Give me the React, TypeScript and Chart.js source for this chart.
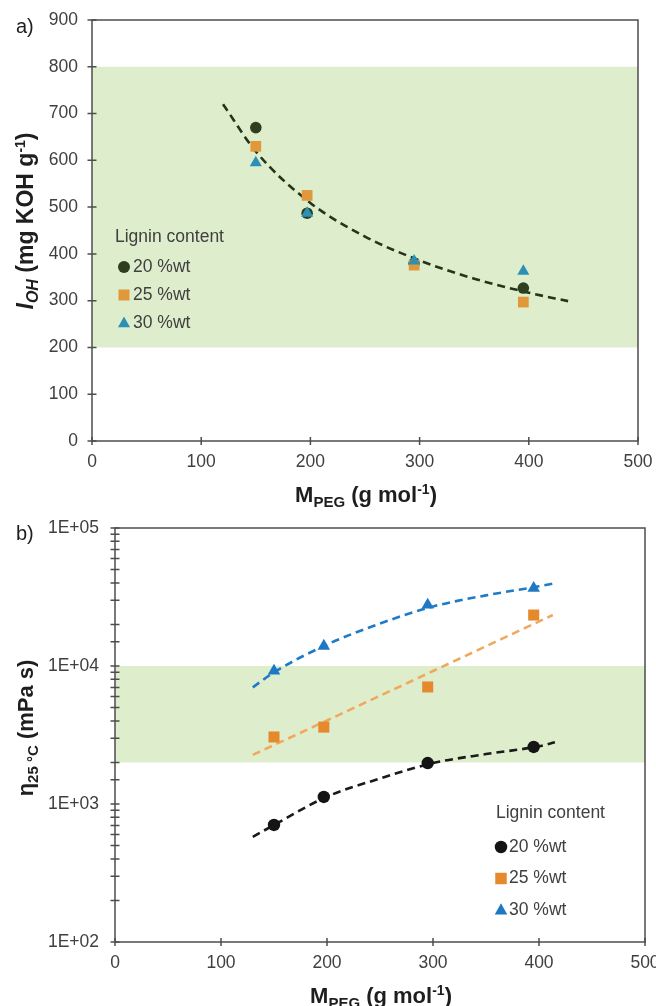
import React, { useEffect, useRef } from 'react';
import { Chart, registerables } from 'chart.js';

Chart.register(...registerables);

const FONT = '"Liberation Sans", Arial, Helvetica, sans-serif';
const TEXT = '#404040';
const TITLE = '#1e1e1e';
const AXIS = '#4d4d4d';
const BAND = 'rgb(222, 238, 204)';

// PEG molar mass of the samples (g/mol)
const M_PEG = [150, 197, 295, 395];
const M_PEG_TICKS = [0, 100, 200, 300, 400, 500];

const LEGEND_TITLE = 'Lignin content';
const SERIES = ['20 %wt', '25 %wt', '30 %wt'];

// a) hydroxyl index (mg KOH/g)
const IOH_20 = [670, 487, 380, 327];
const IOH_25 = [630, 525, 376, 297];
const IOH_30 = [595, 487, 385, 363];
const IOH_TREND_X = [120, 150, 200, 250, 300, 350, 400, 436];
const IOH_TREND_Y = [720, 619, 509, 437, 386, 347, 317, 299];
const IOH_RANGE = [200, 800];
const IOH_TICKS = [0, 100, 200, 300, 400, 500, 600, 700, 800, 900];

// b) viscosity at 25 °C (mPa s)
const VISC_20 = [705, 1125, 1980, 2590];
const VISC_25 = [3060, 3610, 7050, 23400];
const VISC_30 = [9200, 13950, 27700, 36700];
const VISC_TREND20_X = [130, 150, 200, 250, 300, 350, 400, 415];
const VISC_TREND20_Y = [577, 705, 1130, 1530, 1980, 2300, 2620, 2800];
const VISC_TREND25_X = [130, 200, 300, 413];
const VISC_TREND25_Y = [2270, 4030, 9200, 23400];
const VISC_TREND30_X = [130, 150, 200, 250, 300, 350, 400, 417];
const VISC_TREND30_Y = [7000, 9000, 14300, 20300, 27000, 32500, 37800, 40000];
const VISC_RANGE = [2000, 10000];
const VISC_LABELLED = [100, 1000, 10000, 100000];

const pts = (xs: number[], ys: number[]) => xs.map((x, i) => ({ x, y: ys[i] }));

function drawMarker(ctx: CanvasRenderingContext2D, style: string, x: number, y: number, size: number, color: string) {
  ctx.fillStyle = color;
  ctx.beginPath();
  if (style === 'circle') {
    ctx.arc(x, y, size / 2, 0, Math.PI * 2);
  } else if (style === 'rect') {
    const s = size * 0.92;
    ctx.rect(x - s / 2, y - s / 2, s, s);
  } else {
    const h = size * 0.9;
    ctx.moveTo(x, y - h * 0.6);
    ctx.lineTo(x + size / 2, y + h * 0.4);
    ctx.lineTo(x - size / 2, y + h * 0.4);
    ctx.closePath();
  }
  ctx.fill();
}

// shaded target range, boxed frame, crossing tick marks and the in-plot legend
const panelPlugin = {
  id: 'panel',
  beforeDatasetsDraw(chart: any, _args: any, opts: any) {
    const { ctx, chartArea: a, scales } = chart;
    const y = scales.y;
    const x = scales.x;
    ctx.save();
    const top = y.getPixelForValue(opts.band[1]);
    const bot = y.getPixelForValue(opts.band[0]);
    ctx.fillStyle = BAND;
    ctx.fillRect(a.left, top, a.right - a.left, bot - top);
    ctx.strokeStyle = AXIS;
    ctx.lineWidth = 1.5;
    ctx.strokeRect(a.left, a.top, a.right - a.left, a.bottom - a.top);
    ctx.beginPath();
    for (const t of x.ticks) {
      const px = x.getPixelForValue(t.value);
      ctx.moveTo(px, a.bottom - 4);
      ctx.lineTo(px, a.bottom + 4);
    }
    for (const t of y.ticks) {
      const py = y.getPixelForValue(t.value);
      ctx.moveTo(a.left - 4.5, py);
      ctx.lineTo(a.left + 4.5, py);
    }
    ctx.stroke();
    ctx.restore();
  },
  afterDatasetsDraw(chart: any, _args: any, opts: any) {
    const { ctx, chartArea: a } = chart;
    const lg = opts.legend;
    ctx.save();
    ctx.font = `17.5px ${FONT}`;
    ctx.fillStyle = TEXT;
    ctx.textBaseline = 'middle';
    ctx.textAlign = 'left';
    ctx.fillText(LEGEND_TITLE, a.left + lg.x, a.top + lg.y);
    let row = 0;
    chart.data.datasets.forEach((ds: any) => {
      if (!ds.inLegend) return;
      const cy = a.top + lg.rowY + row * lg.dy;
      drawMarker(ctx, ds.pointStyle, a.left + lg.markX, cy, lg.size, ds.backgroundColor);
      ctx.fillStyle = TEXT;
      ctx.fillText(ds.label, a.left + lg.textX, cy);
      row++;
    });
    ctx.restore();
  },
};

function markers(label: string, xs: number[], ys: number[], style: string, radius: number, color: string, order: number) {
  return {
    label,
    data: pts(xs, ys),
    pointStyle: style,
    pointRadius: radius,
    pointHoverRadius: radius,
    pointBackgroundColor: color,
    pointBorderColor: color,
    pointBorderWidth: 0,
    backgroundColor: color,
    borderColor: color,
    showLine: false,
    order,
    inLegend: true,
  };
}

function trend(xs: number[], ys: number[], color: string, curved: boolean) {
  return {
    label: '',
    data: pts(xs, ys),
    showLine: true,
    borderColor: color,
    backgroundColor: color,
    borderWidth: 2.6,
    borderDash: [8, 5],
    pointRadius: 0,
    pointHoverRadius: 0,
    fill: false,
    cubicInterpolationMode: curved ? 'monotone' : 'default',
    order: 10,
  };
}

const tickFont = { family: FONT, size: 17.5 };
const noGrid = { display: false, drawTicks: false, tickLength: 0 };

function xScale(pad: number, height: number) {
  return {
    type: 'linear',
    min: 0,
    max: 500,
    grid: noGrid,
    border: { display: false },
    afterBuildTicks: (s: any) => {
      s.ticks = M_PEG_TICKS.map((v) => ({ value: v }));
    },
    ticks: { font: tickFont, color: TEXT, padding: pad, autoSkip: false, maxRotation: 0 },
    afterFit: (s: any) => {
      s.height = height;
      s.paddingLeft = 0;
      s.paddingRight = 0;
    },
  };
}

function configA() {
  return {
    type: 'scatter',
    data: {
      datasets: [
        markers(SERIES[0], M_PEG, IOH_20, 'circle', 5.8, '#2e3f1f', 3),
        markers(SERIES[1], M_PEG, IOH_25, 'rect', 7.6, '#e0983a', 2),
        markers(SERIES[2], M_PEG, IOH_30, 'triangle', 7, '#2b90b5', 1),
        trend(IOH_TREND_X, IOH_TREND_Y, '#26341a', true),
      ],
    },
    options: {
      animation: false,
      responsive: false,
      devicePixelRatio: 1,
      layout: { padding: { left: 0, top: 20, right: 18, bottom: 0 } },
      scales: {
        x: xScale(11, 62),
        y: {
          type: 'linear',
          min: 0,
          max: 900,
          grid: noGrid,
          border: { display: false },
          afterBuildTicks: (s: any) => {
            s.ticks = IOH_TICKS.map((v) => ({ value: v }));
          },
          ticks: { font: tickFont, color: TEXT, padding: 14, autoSkip: false },
          afterFit: (s: any) => {
            s.width = 92;
            s.paddingTop = 0;
            s.paddingBottom = 0;
          },
        },
      },
      plugins: {
        legend: { display: false },
        tooltip: { enabled: false },
        panel: {
          band: IOH_RANGE,
          legend: { x: 23, y: 217, rowY: 247, dy: 28, markX: 32, textX: 41, size: 12 },
        },
      },
    },
    plugins: [panelPlugin],
  };
}

function configB() {
  return {
    type: 'scatter',
    data: {
      datasets: [
        markers(SERIES[0], M_PEG, VISC_20, 'circle', 6.2, '#141414', 3),
        markers(SERIES[1], M_PEG, VISC_25, 'rect', 7.8, '#e6882c', 2),
        markers(SERIES[2], M_PEG, VISC_30, 'triangle', 7.2, '#1f78c4', 1),
        trend(VISC_TREND20_X, VISC_TREND20_Y, '#1a1a1a', true),
        trend(VISC_TREND25_X, VISC_TREND25_Y, '#f0a85e', false),
        trend(VISC_TREND30_X, VISC_TREND30_Y, '#1f7bc8', true),
      ],
    },
    options: {
      animation: false,
      responsive: false,
      devicePixelRatio: 1,
      layout: { padding: { left: 0, top: 25, right: 11, bottom: 0 } },
      scales: {
        x: xScale(11, 64),
        y: {
          type: 'logarithmic',
          min: 100,
          max: 100000,
          grid: noGrid,
          border: { display: false },
          ticks: {
            font: tickFont,
            color: TEXT,
            padding: 16,
            autoSkip: false,
            callback: (v: number) =>
              VISC_LABELLED.includes(v) ? `1E+${String(Math.round(Math.log10(v))).padStart(2, '0')}` : '',
          },
          afterFit: (s: any) => {
            s.width = 115;
            s.paddingTop = 0;
            s.paddingBottom = 0;
          },
        },
      },
      plugins: {
        legend: { display: false },
        tooltip: { enabled: false },
        panel: {
          band: VISC_RANGE,
          legend: { x: 381, y: 285, rowY: 319, dy: 31.5, markX: 386, textX: 394, size: 12.5 },
        },
      },
    },
    plugins: [panelPlugin],
  };
}

function ChartCanvas({ make, top }: { make: () => any; top: number }) {
  const ref = useRef<HTMLCanvasElement | null>(null);
  useEffect(() => {
    const chart = new Chart(ref.current as HTMLCanvasElement, make());
    return () => chart.destroy();
  }, [make]);
  return (
    <canvas
      ref={ref}
      width={656}
      height={503}
      style={{ position: 'absolute', left: 0, top, width: 656, height: 503 }}
    />
  );
}

const sub: React.CSSProperties = { fontSize: 15, position: 'relative', top: 5 };
const subY: React.CSSProperties = { fontSize: 16, position: 'relative', top: 5 };
const sup: React.CSSProperties = { fontSize: 14, position: 'relative', top: -8 };

function Text({ x, y, rotate, bold, size, children, anchor }: any) {
  const tx = anchor === 'left' ? '0' : '-50%';
  return (
    <div
      style={{
        position: 'absolute',
        left: x,
        top: y,
        transform: `translate(${tx}, -50%)${rotate ? ' rotate(-90deg)' : ''}`,
        whiteSpace: 'nowrap',
        lineHeight: 1,
        fontFamily: FONT,
        fontSize: size,
        fontWeight: bold ? 'bold' : 'normal',
        color: TITLE,
      }}
    >
      {children}
    </div>
  );
}

function PegTitle() {
  return (
    <span>
      M<span style={sub}>PEG</span> (g mol<span style={sup}>-1</span>)
    </span>
  );
}

export default function App() {
  return (
    <div
      style={{
        position: 'absolute',
        left: 0,
        top: 0,
        width: 656,
        height: 1006,
        background: '#fff',
        overflow: 'hidden',
      }}
    >
      <ChartCanvas make={configA} top={0} />
      <ChartCanvas make={configB} top={503} />

      <Text x={16} y={26} size={20} anchor="left">a)</Text>
      <Text x={16} y={533} size={20} anchor="left">b)</Text>

      <Text x={366} y={495} size={22} bold>
        <PegTitle />
      </Text>
      <Text x={381} y={996} size={22} bold>
        <PegTitle />
      </Text>

      <Text x={25} y={221} size={23} bold rotate>
        <span>
          <i>I</i>
          <i style={subY}>OH</i> (mg KOH g<span style={sup}>-1</span>)
        </span>
      </Text>
      <Text x={26} y={728} size={22} bold rotate>
        <span>
          η<span style={sub}>25 °C</span> (mPa s)
        </span>
      </Text>
    </div>
  );
}
